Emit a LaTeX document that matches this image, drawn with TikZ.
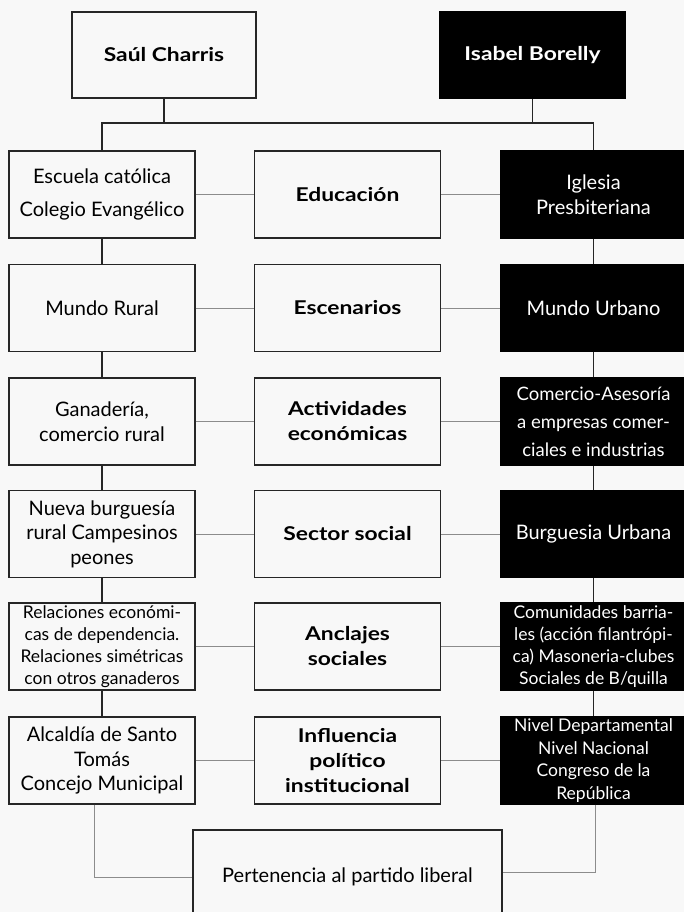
\documentclass[tikz,border=0pt]{standalone}
\usepackage{fontspec}
\setmainfont{Lato}[BoldFeatures={FakeStretch=1.2}]
\definecolor{bg}{RGB}{248,248,248}
\begin{document}
\begin{tikzpicture}[x=1pt,y=-1pt,
  box/.style={draw=black!85, line width=1.3pt, fill=bg, minimum width=186pt, minimum height=87pt, inner sep=1pt, align=center, font=\fontsize{20}{24.5}\selectfont},
  dbox/.style={box, fill=black, draw=black, text=white, minimum width=185pt},
  hd/.style={font=\fontsize{19}{25}\selectfont\bfseries},
  small/.style={font=\fontsize{17.5}{22}\selectfont},
  link/.style={draw=black!45, line width=0.8pt},
  vline/.style={draw=black!85, line width=1.3pt}]
\useasboundingbox[fill=bg] (0,0) rectangle (684,912);
% top
\node[box, hd, minimum width=184pt, minimum height=86pt] (saul) at (164,55) {Saúl Charris};
\node[dbox, hd, minimum height=86pt] (isabel) at (532.5,55) {Isabel Borelly};
% row 1
\node[box] (l1) at (102,194.5) {Escuela católica\\[9pt]Colegio Evangélico};
\node[box, hd] (m1) at (347.5,194.5) {Educación};
\node[dbox] (r1) at (593.5,194.5) {Iglesia\\Presbiteriana};
% row 2
\node[box] (l2) at (102,308) {Mundo Rural};
\node[box, hd] (m2) at (347.5,308) {Escenarios};
\node[dbox] (r2) at (593.5,308) {Mundo Urbano};
% row 3
\node[box] (l3) at (102,421.5) {Ganadería,\\comercio rural};
\node[box, hd] (m3) at (347.5,421.5) {Actividades\\económicas};
\node[dbox, font=\fontsize{18.5}{28}\selectfont] (r3) at (593.5,421.5) {Comercio-Asesoría\\a empresas comer-\\ciales e industrias};
% row 4
\node[box] (l4) at (102,534) {Nueva burguesía\\rural Campesinos\\peones};
\node[box, hd] (m4) at (347.5,534) {Sector social};
\node[dbox] (r4) at (593.5,534) {Burguesia Urbana};
% row 5
\node[box, small] (l5) at (102,646.5) {Relaciones económi-\\cas de dependencia.\\Relaciones simétricas\\con otros ganaderos};
\node[box, hd] (m5) at (347.5,646.5) {Anclajes\\sociales};
\node[dbox, small] (r5) at (593.5,646.5) {Comunidades barria-\\les (acción filantrópi-\\ca) Masoneria-clubes\\Sociales de B/quilla};
% row 6
\node[box] (l6) at (102,760.5) {Alcaldía de Santo\\Tomás\\Concejo Municipal};
\node[box, hd] (m6) at (347.5,760.5) {Influencia\\político\\institucional};
\node[dbox, font=\fontsize{17.5}{22.5}\selectfont] (r6) at (593.5,760.5) {Nivel Departamental\\Nivel Nacional\\Congreso de la\\República};
% bottom
\node[box, minimum width=309pt, minimum height=94pt] (bot) at (347.5,877) {Pertenencia al partido liberal};
% top connectors
\coordinate (bar) at (0,123);
\draw[vline] (saul.south) -- (saul.south |- bar);
\draw[vline] (isabel.south) -- (isabel.south |- bar);
\draw[vline] (l1.north) |- (r1.north |- bar) -- (r1.north);
% column verticals
\foreach \a/\b in {1/2,2/3,3/4,4/5,5/6}{
  \draw[vline] (l\a.south) -- (l\b.north);
  \draw[vline] (r\a.south) -- (r\b.north);
}
% horizontal links
\foreach \i in {1,...,6}{
  \draw[link] (l\i.east) -- (m\i.west);
  \draw[link] (m\i.east) -- (r\i.west);
}
% bottom links
\draw[link] ([xshift=-8pt]l6.south) |- (bot.west);
\draw[link] ([xshift=1.5pt]r6.south) |- ([yshift=5pt]bot.east);
\end{tikzpicture}
\end{document}
